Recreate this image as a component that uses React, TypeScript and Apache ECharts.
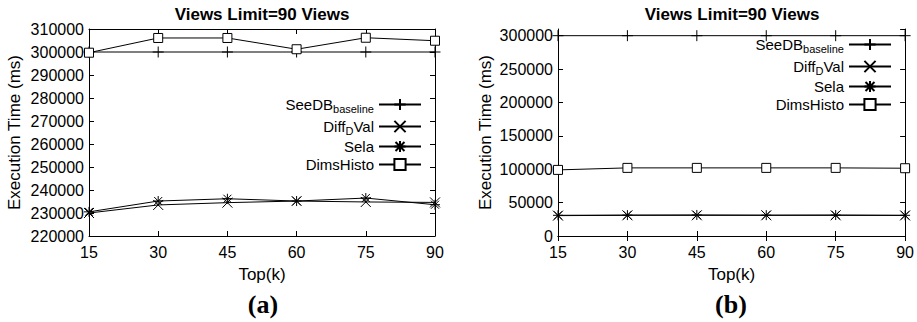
import React, { useEffect, useRef } from "react";
import * as echarts from "echarts";

const topK = [15, 30, 45, 60, 75, 90];

// (a)
const seeDBA = [300000, 300000, 300000, 300000, 300000, 300000];
const diffDValA = [230000, 233500, 234500, 235200, 234800, 234600];
const selaA = [230500, 235200, 236200, 235200, 236500, 233600];
const dimsHistoA = [299700, 306100, 306100, 301200, 306200, 304900];

// (b)
const seeDBB = [300000, 300000, 300000, 300000, 300000, 300000];
const diffDValB = [30500, 31000, 31000, 31000, 31000, 30800];
const selaB = [31000, 31300, 31500, 31200, 31400, 31000];
const dimsHistoB = [99000, 102000, 102000, 102000, 102000, 101500];

const yTicksA = { min: 220000, max: 310000, interval: 10000 };
const yTicksB = { min: 0, max: 310000, interval: 50000 };

const seriesNames = ["SeeDB_baseline", "Diff_DVal", "Sela", "DimsHisto"];

const FONT = "Arial";
const SERIF = "'Times New Roman'";

const SYM_PLUS = "path://M0,5L10,5M5,0L5,10";
const SYM_CROSS = "path://M0,0L10,10M10,0L0,10";
const SYM_STAR = "path://M0,5L10,5M5,0L5,10M1,1L9,9M9,1L1,9";

export default function App() {
  const ref = useRef<HTMLDivElement>(null);
  useEffect(() => {
    if (!ref.current) return;
    const chart = echarts.init(ref.current, null, { renderer: "svg" });

    const pair = (a: number[]) => topK.map((x, i) => [x, a[i]]);

    const grids = [
      { left: 89, top: 29, width: 346, height: 207 },
      { left: 558, top: 29, width: 348, height: 207 },
    ];

    const axisLine = { show: true, lineStyle: { color: "#000", width: 1 } };
    const xAxes: any[] = [];
    const yAxes: any[] = [];
    [0, 1].forEach((g) => {
      xAxes.push({
        type: "value",
        gridIndex: g,
        min: 15,
        max: 90,
        interval: 15,
        position: "bottom",
        axisLine,
        axisTick: { inside: true, length: 5, lineStyle: { color: "#000" } },
        splitLine: { show: false },
        axisLabel: { color: "#000", fontSize: 16, fontFamily: FONT, margin: 8 },
        name: "Top(k)",
        nameLocation: "middle",
        nameGap: 30,
        nameTextStyle: { color: "#000", fontSize: 17, fontFamily: FONT },
      });
      xAxes.push({
        type: "value",
        gridIndex: g,
        min: 15,
        max: 90,
        interval: 15,
        position: "top",
        axisLine,
        axisTick: { inside: true, length: 5, lineStyle: { color: "#000" } },
        splitLine: { show: false },
        axisLabel: { show: false },
      });
      const yt = g === 0 ? yTicksA : yTicksB;
      yAxes.push({
        type: "value",
        gridIndex: g,
        min: yt.min,
        max: yt.max,
        interval: yt.interval,
        position: "left",
        axisLine,
        axisTick: { inside: true, length: 5, lineStyle: { color: "#000" } },
        splitLine: { show: false },
        axisLabel: {
          color: "#000", fontSize: 16, fontFamily: FONT, margin: 5, showMaxLabel: g === 0,
          formatter: (v: number) => String(v),
        },
        name: "Execution Time (ms)",
        nameLocation: "middle",
        nameGap: g === 0 ? 66 : 64,
        nameTextStyle: { color: "#000", fontSize: 17, fontFamily: FONT },
      });
      yAxes.push({
        type: "value",
        gridIndex: g,
        min: yt.min,
        max: yt.max,
        interval: yt.interval,
        position: "right",
        axisLine,
        axisTick: { inside: true, length: 5, lineStyle: { color: "#000" } },
        splitLine: { show: false },
        axisLabel: { show: false },
      });
    });

    const mk = (name: string, data: number[], g: number, symbol: string, size: number, fill: string) => ({
      type: "line",
      name,
      xAxisIndex: g * 2,
      yAxisIndex: g * 2,
      data: pair(data),
      symbol,
      symbolSize: size,
      showAllSymbol: true,
      lineStyle: { color: "#000", width: 1 },
      itemStyle: { color: fill, borderColor: "#000", borderWidth: 1 },
      emphasis: { disabled: true },
      z: 3,
    });

    const series: any[] = [];
    [0, 1].forEach((g) => {
      const d = g === 0 ? [seeDBA, diffDValA, selaA, dimsHistoA] : [seeDBB, diffDValB, selaB, dimsHistoB];
      series.push(mk(seriesNames[0], d[0], g, SYM_PLUS, 11, "#000"));
      series.push(mk(seriesNames[1], d[1], g, SYM_CROSS, 10, "#000"));
      series.push(mk(seriesNames[2], d[2], g, SYM_STAR, 10, "#000"));
      series.push(mk(seriesNames[3], d[3], g, "rect", 9, "#fff"));
    });

    const legendFormatter = (name: string) => {
      if (name === "SeeDB_baseline") return "{a|SeeDB}{sub|baseline}";
      if (name === "Diff_DVal") return "{a|Diff}{sub|D}{a|Val}";
      return "{a|" + name + "}";
    };
    const legendText = {
      color: "#000",
      fontFamily: FONT,
      fontSize: 15,
      rich: {
        a: { fontSize: 15, fontFamily: FONT, color: "#000", lineHeight: 17 },
        sub: { fontSize: 11, fontFamily: FONT, color: "#000", lineHeight: 9, padding: [8, 0, 0, 0] },
      },
    };
    const legendBase = {
      orient: "vertical",
      align: "right",
      itemWidth: 42,
      itemHeight: 14,
      itemGap: 3,
      padding: 0,
      selectedMode: false,
      formatter: legendFormatter,
      textStyle: legendText,
      data: seriesNames,
    };

    chart.setOption({
      animation: false,
      backgroundColor: "#fff",
      title: [
        { text: "Views Limit=90 Views", left: 262, top: 6, textAlign: "center", padding: 0,
          textStyle: { fontSize: 17, fontWeight: "bold", fontFamily: FONT, color: "#000" } },
        { text: "Views Limit=90 Views", left: 732, top: 6, textAlign: "center", padding: 0,
          textStyle: { fontSize: 17, fontWeight: "bold", fontFamily: FONT, color: "#000" } },
      ],
      grid: grids,
      xAxis: xAxes,
      yAxis: yAxes,
      legend: [
        { ...legendBase, right: 917 - 422, top: 95 },
        { ...legendBase, right: 917 - 892, top: 35 },
      ],
      series,
      graphic: [
        { type: "text", x: 263, y: 304, style: { text: "(a)", font: "bold 26px " + SERIF, fill: "#000", align: "center", verticalAlign: "middle" } },
        { type: "text", x: 731, y: 304, style: { text: "(b)", font: "bold 26px " + SERIF, fill: "#000", align: "center", verticalAlign: "middle" } },
      ],
    });
    return () => chart.dispose();
  }, []);
  return <div ref={ref} style={{ position: "absolute", left: 0, top: 0, width: 917, height: 322 }} />;
}
